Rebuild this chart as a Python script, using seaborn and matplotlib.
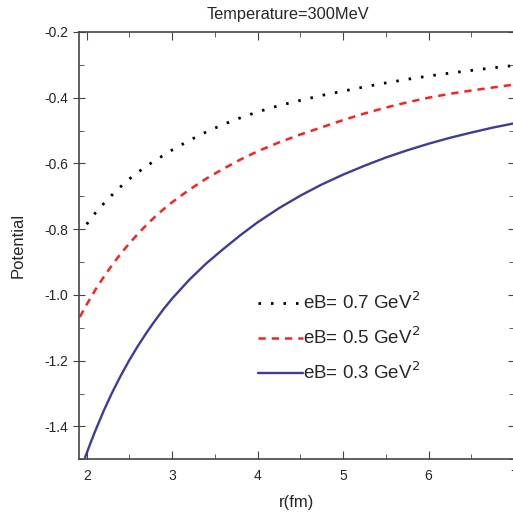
import matplotlib
matplotlib.use("Agg")
import matplotlib.pyplot as plt
import seaborn as sns
from matplotlib.ticker import MultipleLocator, FormatStrFormatter

sns.set_style("ticks")
plt.rcParams.update({'font.family'     : ['Liberation Sans', 'DejaVu Sans'],
                     'font.size'       : 11,
                     'xtick.labelsize' : 10,
                     'ytick.labelsize' : 10,
                     'axes.linewidth'  : 1.2})

# values
r_07 = [2.0, 2.1, 2.2, 2.3, 2.4, 2.5, 2.6, 2.7, 2.8, 2.9, 3.0, 3.2, 3.4, 3.6, 3.8,
        4.0, 4.25, 4.5, 4.75, 5.0, 5.25, 5.5, 5.75, 6.0, 6.25, 6.5, 6.75, 7.0]
v_07 = [-0.785, -0.751, -0.722, -0.695, -0.670, -0.647, -0.627, -0.608, -0.591,
        -0.575, -0.559, -0.530, -0.504, -0.481, -0.461, -0.443, -0.424, -0.408,
        -0.393, -0.380, -0.367, -0.355, -0.344, -0.334, -0.325, -0.317, -0.309, -0.302]

r_05 = [1.92, 2.0, 2.1, 2.2, 2.3, 2.4, 2.5, 2.6, 2.7, 2.8, 2.9, 3.0, 3.2, 3.4, 3.6,
        3.8, 4.0, 4.25, 4.5, 4.75, 5.0, 5.25, 5.5, 5.75, 6.0, 6.25, 6.5, 6.75, 7.0]
v_05 = [-1.067, -1.029, -0.985, -0.945, -0.908, -0.874, -0.843, -0.814, -0.787,
        -0.762, -0.739, -0.718, -0.680, -0.646, -0.616, -0.588, -0.563, -0.536,
        -0.512, -0.490, -0.468, -0.448, -0.430, -0.414, -0.400, -0.388, -0.378,
        -0.369, -0.360]

r_03 = [1.98, 2.05, 2.1, 2.2, 2.3, 2.4, 2.5, 2.6, 2.7, 2.8, 2.9, 3.0, 3.2, 3.4, 3.6,
        3.8, 4.0, 4.25, 4.5, 4.75, 5.0, 5.25, 5.5, 5.75, 6.0, 6.25, 6.5, 6.75, 7.0]
v_03 = [-1.495, -1.447, -1.414, -1.352, -1.296, -1.245, -1.198, -1.155, -1.115,
        -1.078, -1.043, -1.011, -0.954, -0.904, -0.860, -0.818, -0.779, -0.736,
        -0.698, -0.664, -0.634, -0.607, -0.582, -0.560, -0.540, -0.522, -0.506,
        -0.491, -0.478]

fig = plt.figure(figsize=(5.13, 5.16), dpi=100)
ax = fig.add_axes([0.154, 0.110, 0.848, 0.828])

sns.lineplot(x=r_07, y=v_07, ax=ax, color='black', lw=2.0, linestyle=(0, (0.9, 3.6)),
             label=r'eB= 0.7 GeV$^2$', sort=False)
sns.lineplot(x=r_05, y=v_05, ax=ax, color='#ff1f1f', lw=1.8, linestyle=(0, (2.9, 2.4)),
             label=r'eB= 0.5 GeV$^2$', sort=False)
sns.lineplot(x=r_03, y=v_03, ax=ax, color='#3c3c9c', lw=1.7,
             label=r'eB= 0.3 GeV$^2$', sort=False)

ax.set_xlim(1.91, 7.0)
ax.set_ylim(-1.5, -0.2)
ax.xaxis.set_major_locator(MultipleLocator(1))
ax.xaxis.set_minor_locator(MultipleLocator(0.5))
ax.yaxis.set_minor_locator(MultipleLocator(0.1))
ax.set_yticks([-1.4, -1.2, -1.0, -0.8, -0.6, -0.4, -0.2])
ax.yaxis.set_major_formatter(FormatStrFormatter('%.1f'))
ax.tick_params(which='both', direction='in', top=True, right=True, color='#444444')
ax.tick_params(which='major', length=6)
ax.tick_params(which='minor', length=3.5)
ax.tick_params(axis='x', which='major', pad=7)
ax.tick_params(axis='y', which='major', direction='inout', length=8)
for s in ax.spines.values():
    s.set_color('#444444')

ax.set_xlabel('r(fm)', fontsize=12, labelpad=9)
ax.set_ylabel('Potential', fontsize=12, labelpad=14)
ax.set_title('Temperature=300MeV', fontsize=11.8, pad=9, x=0.48)

leg = ax.legend(loc='upper left', bbox_to_anchor=(0.395, 0.41), frameon=False,
                fontsize=13.5, handlelength=2.4, handletextpad=0.0, labelspacing=0.72,
                borderaxespad=0)

plt.savefig('out.png', dpi=100)
